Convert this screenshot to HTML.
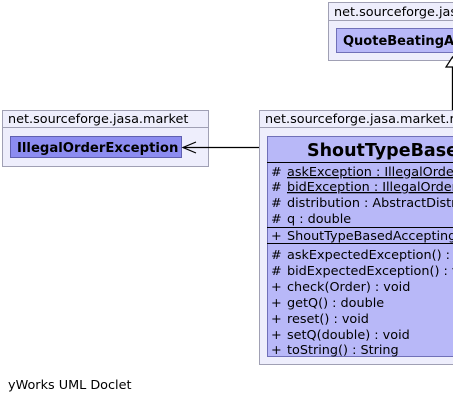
<!DOCTYPE html>
<html><head><meta charset="utf-8"><style>
body{margin:0;width:453px;height:403px;overflow:hidden;background:#fff;font-family:"DejaVu Sans","Liberation Sans",sans-serif}
</style></head><body>
<svg width="453" height="403" xmlns="http://www.w3.org/2000/svg" style="position:absolute;left:0;top:0" font-family="DejaVu Sans, Liberation Sans, sans-serif">
<rect x="328.5" y="2.5" width="140" height="58" fill="#eeeefc" stroke="#a0a0b4"/>
<line x1="328" y1="20.5" x2="453" y2="20.5" stroke="#a0a0b4"/>
<text x="334" y="16" font-size="12.8">net.sourceforge.jasa.market.</text>
<rect x="336.5" y="28.5" width="130" height="24" fill="#b8b8f8" stroke="#7070b8"/>
<text x="343" y="45" font-size="13" font-weight="bold">QuoteBeatingAcceptingPolicy</text>
<line x1="452.5" y1="67" x2="452.5" y2="137" stroke="#000" stroke-width="1.3"/>
<polygon points="452.5,57 446,67 459,67" fill="#fff" stroke="#000" stroke-width="1.2"/>
<rect x="2.5" y="110.5" width="206" height="56" fill="#eeeefc" stroke="#a0a0b4"/>
<line x1="2" y1="127.5" x2="209" y2="127.5" stroke="#a0a0b4"/>
<text x="8" y="123" font-size="12.8">net.sourceforge.jasa.market</text>
<rect x="10.5" y="136.5" width="171" height="21" fill="#8c8cf0" stroke="#6060b0"/>
<text x="17" y="152" font-size="13.2" font-weight="bold">IllegalOrderException</text>
<line x1="183" y1="147.5" x2="267" y2="147.5" stroke="#000" stroke-width="1.2"/>
<polyline points="196,142 183,147.5 196,153" fill="none" stroke="#000" stroke-width="1.2"/>
<rect x="259.5" y="110.5" width="220" height="254" fill="#eeeefc" stroke="#a0a0b4"/>
<line x1="259" y1="127.5" x2="453" y2="127.5" stroke="#a0a0b4"/>
<text x="265" y="123" font-size="12.8">net.sourceforge.jasa.market.rules</text>
<rect x="267.5" y="136.5" width="210" height="220" fill="#b8b8f8" stroke="#7070b8"/>
<text x="307" y="156" font-size="17.5" font-weight="bold">ShoutTypeBasedAcceptingPolicy</text>
<line x1="267" y1="162.5" x2="453" y2="162.5" stroke="#000"/>
<line x1="267" y1="227.5" x2="453" y2="227.5" stroke="#000"/>
<line x1="267" y1="243.5" x2="453" y2="243.5" stroke="#000"/>
<g font-size="12.8">
<text x="271" y="176">#</text><text x="287" y="176" text-decoration="underline">askException : IllegalOrderException</text>
<text x="271" y="191">#</text><text x="287" y="191" text-decoration="underline">bidException : IllegalOrderException</text>
<text x="271" y="207">#</text><text x="287" y="207">distribution : AbstractDistribution</text>
<text x="271" y="223">#</text><text x="287" y="223">q : double</text>
<text x="271" y="240">+</text><text x="287" y="240">ShoutTypeBasedAcceptingPolicy()</text>
<text x="271" y="259">#</text><text x="287" y="259">askExpectedException() : void</text>
<text x="271" y="275">#</text><text x="287" y="275">bidExpectedException() : void</text>
<text x="271" y="291">+</text><text x="287" y="291">check(Order) : void</text>
<text x="271" y="307">+</text><text x="287" y="307">getQ() : double</text>
<text x="271" y="323">+</text><text x="287" y="323">reset() : void</text>
<text x="271" y="339">+</text><text x="287" y="339">setQ(double) : void</text>
<text x="271" y="354">+</text><text x="287" y="354">toString() : String</text>
</g>
<text x="8" y="389" font-size="12.8">yWorks UML Doclet</text>
</svg>
</body></html>
